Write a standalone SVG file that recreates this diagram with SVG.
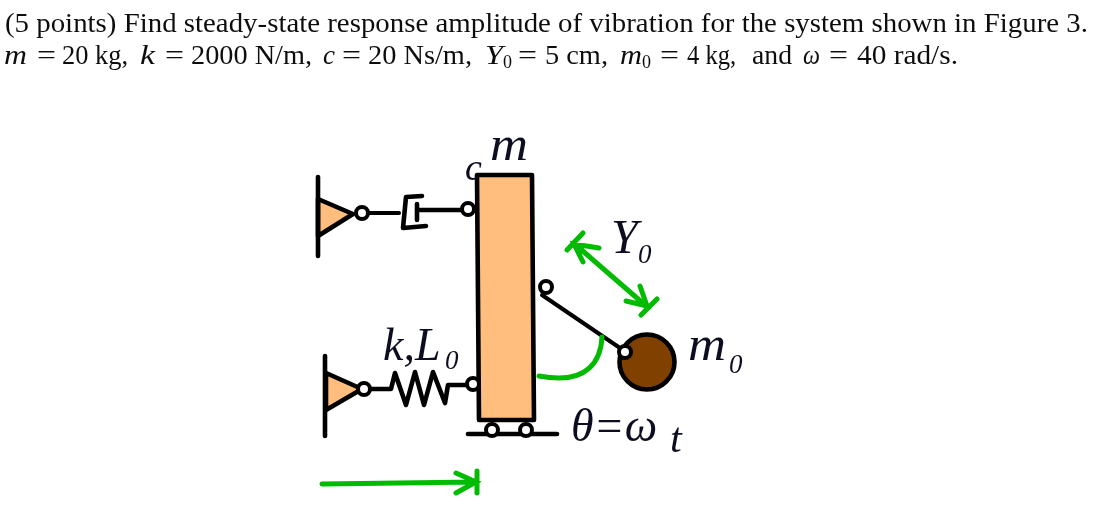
<svg xmlns="http://www.w3.org/2000/svg" width="1101" height="509" viewBox="0 0 1101 509">
<style>
.k{fill:none;stroke:#000;stroke-width:4.6;stroke-linecap:round;stroke-linejoin:round}
.thin{stroke-width:4}
.g{fill:none;stroke:#0b0;stroke-width:5;stroke-linecap:round;stroke-linejoin:miter}
.pin{fill:#fff;stroke:#000;stroke-width:4}
.or{fill:#ffbe7d;stroke:#000;stroke-width:4.6;stroke-linejoin:round}
.h{font-family:"Liberation Serif","DejaVu Serif",serif;font-size:26.5px;fill:#111}
.i{font-style:italic}
.s{font-size:18px}
.f{font-family:"Liberation Serif","DejaVu Serif",serif;font-style:italic;fill:#111122}
</style>
<defs><filter id="soft" x="0" y="0" width="1" height="1"><feGaussianBlur stdDeviation="0.45"/></filter></defs>
<rect width="1101" height="509" fill="#fff"/>
<g id="problem-text" class="h" filter="url(#soft)">
<text x="5" y="32" textLength="1083" lengthAdjust="spacingAndGlyphs">(5 points) Find steady-state response amplitude of vibration for the system shown in Figure 3.</text>
<text x="4" y="64" class="i" textLength="23" lengthAdjust="spacingAndGlyphs">m</text>
<text x="37" y="64" textLength="19" lengthAdjust="spacingAndGlyphs">=</text>
<text x="62" y="64" textLength="66" lengthAdjust="spacingAndGlyphs">20 kg,</text>
<text x="140" y="64" class="i" textLength="15" lengthAdjust="spacingAndGlyphs">k</text>
<text x="165" y="64" textLength="19" lengthAdjust="spacingAndGlyphs">=</text>
<text x="191" y="64" textLength="121" lengthAdjust="spacingAndGlyphs">2000 N/m,</text>
<text x="323" y="64" class="i" textLength="12" lengthAdjust="spacingAndGlyphs">c</text>
<text x="342" y="64" textLength="19" lengthAdjust="spacingAndGlyphs">=</text>
<text x="368" y="64" textLength="104" lengthAdjust="spacingAndGlyphs">20 Ns/m,</text>
<text x="485" y="64" class="i" textLength="18" lengthAdjust="spacingAndGlyphs">Y</text>
<text x="503" y="68" class="s">0</text>
<text x="518" y="64" textLength="19" lengthAdjust="spacingAndGlyphs">=</text>
<text x="545" y="64" textLength="63" lengthAdjust="spacingAndGlyphs">5 cm,</text>
<text x="620" y="64" class="i" textLength="22" lengthAdjust="spacingAndGlyphs">m</text>
<text x="642" y="68" class="s">0</text>
<text x="660" y="64" textLength="19" lengthAdjust="spacingAndGlyphs">=</text>
<text x="687" y="64" textLength="49" lengthAdjust="spacingAndGlyphs">4 kg,</text>
<text x="752" y="64" textLength="40" lengthAdjust="spacingAndGlyphs">and</text>
<text x="803" y="64" class="i" textLength="17" lengthAdjust="spacingAndGlyphs">ω</text>
<text x="829" y="64" textLength="19" lengthAdjust="spacingAndGlyphs">=</text>
<text x="857" y="64" textLength="101" lengthAdjust="spacingAndGlyphs">40 rad/s.</text>
</g>
<g id="connectors">
<path class="k thin" d="M368 213H399"/>
<path class="k" d="M422 196L406 197L403 228L426 226"/>
<path class="k" d="M417 204V220M418 210H463"/>
<path class="k" d="M370 389H391L395 373L406 405L415 372L424 405L433 372L445 403L448 385H467"/>
<path class="k thin" d="M542 295L620 348"/>
</g>
<g id="wall-top"><path class="or" d="M318 199L353 214L318 236Z"/><path class="k" d="M318 177V256"/><circle class="pin" cx="362" cy="213" r="6"/></g>
<g id="wall-bottom"><path class="or" d="M326 373L362 389L326 410Z"/><path class="k" d="M325 356V436"/><circle class="pin" cx="364" cy="389" r="6"/></g>
<g id="ground"><path class="k" d="M468 434H557"/><circle class="pin" cx="492" cy="430" r="6"/><circle class="pin" cx="526" cy="430" r="6"/></g>
<g id="mass"><path class="or" d="M477 175H532L534 420H479Z"/><circle class="pin" cx="468" cy="209" r="6"/><circle class="pin" cx="473" cy="384" r="6"/></g>
<g id="pendulum"><circle class="pin" cx="546" cy="287" r="6"/><circle cx="647" cy="362" r="27.5" fill="#7f4000" stroke="#000" stroke-width="4.6"/><circle class="pin" cx="625" cy="352" r="6"/></g>
<g id="green-arrows">
<path class="g" d="M322 484L476 482M477 471V493M456 473L476 482L456 493"/>
<path class="g" d="M577 246L645 305M567 250L583 233M583 262L574 244L599 248M657 299L641 315M640 286L647 306L626 301"/>
<path class="g" d="M602 337C601 358 590 386 539 376"/>
</g>
<g id="labels" class="f" filter="url(#soft)">
<text x="490" y="160" font-size="48" textLength="38" lengthAdjust="spacingAndGlyphs">m</text>
<text x="465" y="180" font-size="38">c</text>
<text x="611" y="253" font-size="48">Y</text><text x="638" y="263" font-size="27">0</text>
<text x="383" y="360" font-size="46">k,L</text><text x="445" y="369" font-size="27">0</text>
<text x="688" y="360" font-size="48" textLength="38" lengthAdjust="spacingAndGlyphs">m</text><text x="729" y="373" font-size="27">0</text>
<text x="571" y="441" font-size="46">θ=ω</text><text x="670" y="452" font-size="42">t</text>
</g>
</svg>
